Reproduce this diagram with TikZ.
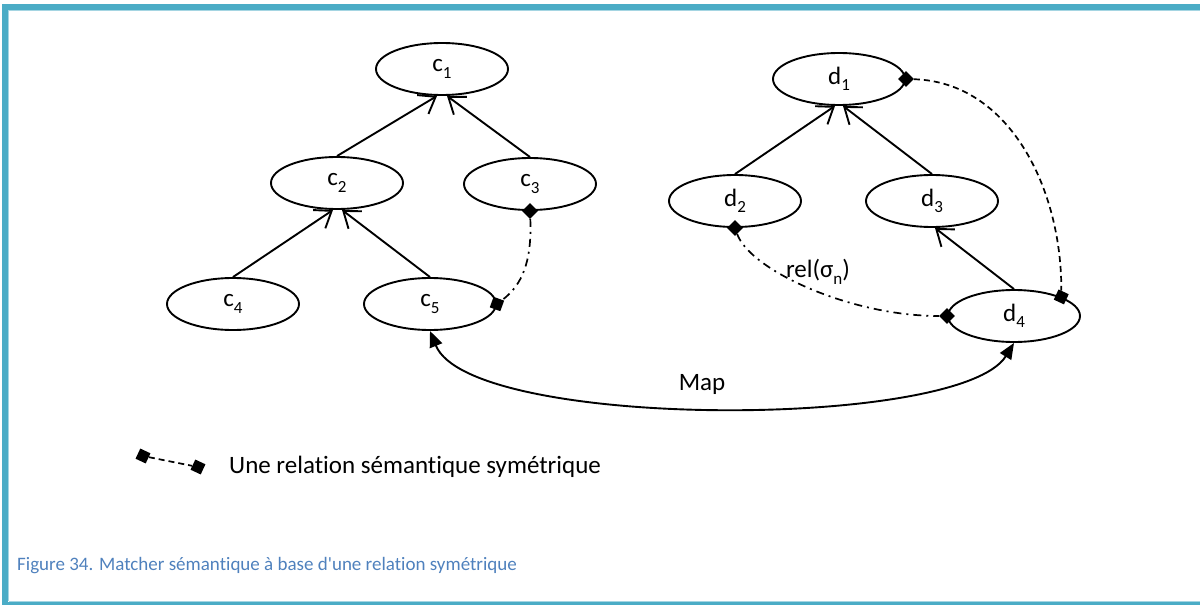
\documentclass[tikz,border=0pt]{standalone}
\usepackage{fontspec}
\setmainfont{Carlito}[Ligatures={NoCommon,TeXOff}]
\usetikzlibrary{arrows.meta,shapes.geometric}
\definecolor{framec}{HTML}{4BACC6}
\definecolor{framelight}{HTML}{A5D5E2}
\definecolor{capblue}{HTML}{4F81BD}
\newcommand\lsub[1]{\raisebox{-0.26em}{\fontsize{17}{17}\selectfont #1}}
\begin{document}
\begin{tikzpicture}[x=1pt,y=-1pt,
  ell/.style={ellipse,draw,line width=1.9pt,minimum width=132pt,minimum height=52pt,inner sep=0pt,font=\fontsize{25}{30}\selectfont},
  dia/.style={diamond,fill=black,minimum size=16pt,inner sep=0pt},
  isa/.style={line width=1.9pt,-{Straight Barb[length=15pt,width=22pt]}},
  txt/.style={font=\fontsize{25}{30}\selectfont,inner sep=0pt},
  dashrel/.style={line width=1.7pt,dash pattern=on 6pt off 4pt},
  dotrel/.style={line width=1.7pt,dash pattern=on 8pt off 5pt on 2pt off 5pt},
  maparrow/.style={line width=1.9pt,{Triangle[length=16pt,width=13pt]}-{Triangle[length=16pt,width=13pt]}}]
\useasboundingbox (0,0) rectangle (1200,605);
% frame
\fill[framec] (2,4) rectangle (1200,9.5);
\fill[framelight] (8,9.5) rectangle (1200,11);
\fill[framec] (2,4) rectangle (7.5,605);
\fill[framelight] (7.5,11) rectangle (8.5,600.5);
\fill[framelight] (8.5,600.5) rectangle (1200,602);
\fill[framec] (2,602) rectangle (1200,605);
% nodes
\node[ell] (c1) at (442,69) {c\lsub{1}};
\node[ell] (c2) at (337,183) {c\lsub{2}};
\node[ell] (c3) at (530,184) {c\lsub{3}};
\node[ell] (c4) at (233,304) {c\lsub{4}};
\node[ell] (c5) at (430,304) {c\lsub{5}};
\node[ell] (d1) at (839,79) {d\lsub{1}};
\node[ell] (d2) at (735,201) {d\lsub{2}};
\node[ell] (d3) at (932,201) {d\lsub{3}};
\node[ell] (d4) at (1014,316) {d\lsub{4}};
% tree edges
\draw[isa] (c2.north) -- ([xshift=-5pt]c1.south);
\draw[isa] (c3.north) -- ([xshift=5pt]c1.south);
\draw[isa] (c4.north) -- ([xshift=-4pt]c2.south);
\draw[isa] (c5.north) -- ([xshift=5pt]c2.south);
\draw[isa] (d2.north) -- ([xshift=-4pt]d1.south);
\draw[isa] (d3.north) -- ([xshift=4pt]d1.south);
\draw[isa] (d4.north) -- ([xshift=3pt]d3.south);
% diamonds
\node[dia] (c3d) at (c3.south) {};
\node[dia,rotate=25] (c5d) at (c5.east) {};
\node[dia] (d1d) at (d1.east) {};
\node[dia,rotate=20] (d4d) at (d4.22) {};
\node[dia] (d2d) at (d2.south) {};
\node[dia] (d4w) at (d4.west) {};
% semantic relations
\draw[dotrel] (c3d) .. controls (532,262) and (522,285) .. (c5d);
\draw[dashrel] (d1d) .. controls (1010,82) and (1062,190) .. (d4d);
\draw[dotrel] (d2d) .. controls (750,270) and (850,316) .. (d4w);
\node[txt] (rel) at (818,272) {rel(σ\lsub{n})};
% map
\draw[maparrow] (c5.south) .. controls (470,430) and (960,430) .. (d4.south);
\node[txt,anchor=base] (map) at (702,390) {Map};
% legend
\node[dia,rotate=20] (l1) at (143,456) {};
\node[dia,rotate=20] (l2) at (198,467) {};
\draw[dashrel] (l1) -- (l2);
\node[txt,anchor=base west] (leg) at (229,473) {Une relation sémantique symétrique};
% caption
\node[anchor=base west,inner sep=0pt,text=capblue,font=\fontsize{19}{23}\selectfont] (cap) at (17,570) {Figure 34. Matcher sémantique à base d'une relation symétrique};
\end{tikzpicture}
\end{document}
